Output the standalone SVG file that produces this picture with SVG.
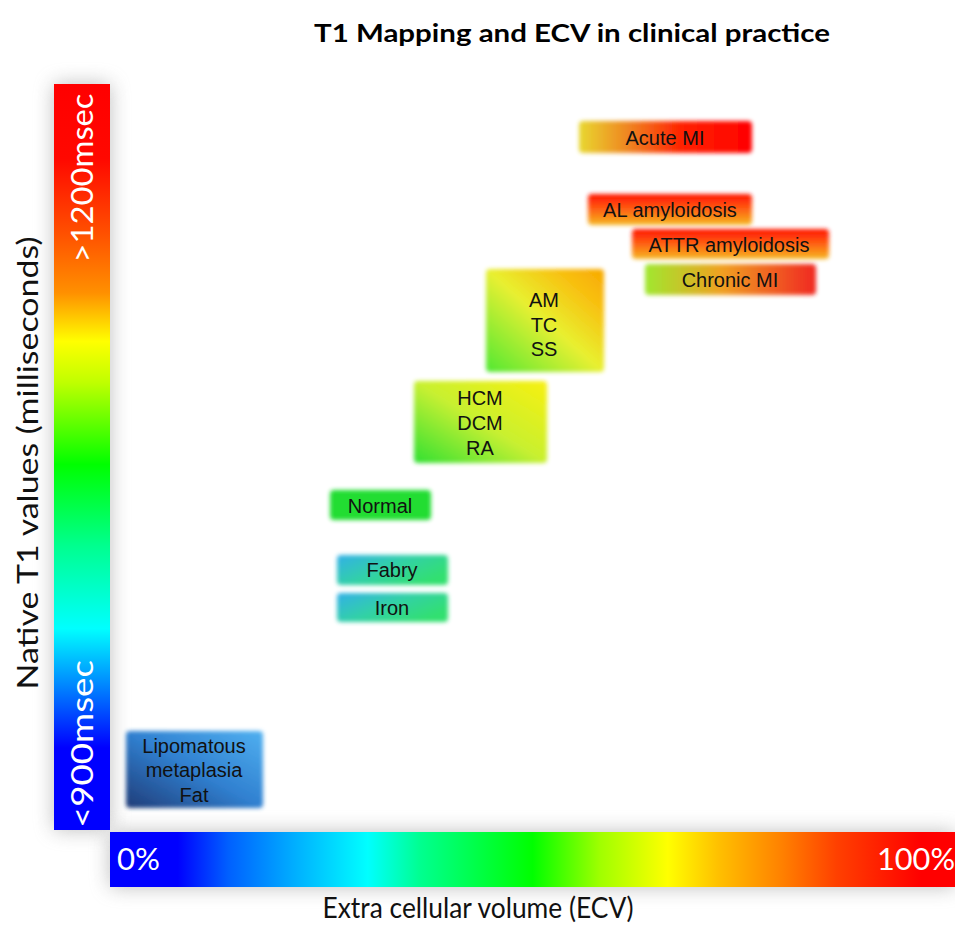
<svg xmlns="http://www.w3.org/2000/svg" width="955" height="926" viewBox="0 0 955 926">
<defs>
<style>
.ttl{font-family:Lato,"Open Sans","Liberation Sans",sans-serif;font-weight:bold;font-size:24px;fill:#000}
.ax{font-family:Lato,"Open Sans","Liberation Sans",sans-serif;font-size:29px;fill:#111}
.bar{font-family:Lato,"Open Sans","Liberation Sans",sans-serif;font-size:30px;fill:#fff}
.lbl{font-family:"Liberation Sans",Arial,sans-serif;font-size:20px;fill:#111;text-anchor:middle}
</style>
<filter id="soft" x="-20%" y="-40%" width="140%" height="180%"><feGaussianBlur stdDeviation="2"/></filter>
<filter id="shadow" x="-50%" y="-50%" width="200%" height="200%"><feGaussianBlur stdDeviation="10"/></filter>
<linearGradient id="gV" x1="0" y1="0" x2="0" y2="1">
<stop offset="0" stop-color="#ff0000"/><stop offset="0.1" stop-color="#ff0800"/>
<stop offset="0.2" stop-color="#ff5000"/><stop offset="0.28" stop-color="#ff9000"/>
<stop offset="0.345" stop-color="#ffff00"/><stop offset="0.4" stop-color="#c0ff00"/>
<stop offset="0.51" stop-color="#00ff00"/><stop offset="0.62" stop-color="#00ff90"/>
<stop offset="0.73" stop-color="#00ffff"/><stop offset="0.8" stop-color="#0090ff"/>
<stop offset="0.89" stop-color="#0000ff"/><stop offset="1" stop-color="#0000ff"/>
</linearGradient>
<linearGradient id="gH" x1="0" y1="0" x2="1" y2="0">
<stop offset="0" stop-color="#0000ff"/><stop offset="0.08" stop-color="#0000ff"/>
<stop offset="0.14" stop-color="#0060ff"/><stop offset="0.22" stop-color="#00b0ff"/>
<stop offset="0.305" stop-color="#00ffff"/><stop offset="0.367" stop-color="#00ff90"/>
<stop offset="0.5" stop-color="#00ff00"/><stop offset="0.58" stop-color="#a0ff00"/>
<stop offset="0.66" stop-color="#ffff00"/><stop offset="0.72" stop-color="#ffc000"/>
<stop offset="0.796" stop-color="#ff8000"/><stop offset="0.86" stop-color="#ff4000"/>
<stop offset="0.96" stop-color="#ff0000"/><stop offset="1" stop-color="#ff0000"/>
</linearGradient>
<linearGradient id="gAcute" x1="0" y1="0" x2="1" y2="0">
<stop offset="0" stop-color="#e8d830"/><stop offset="0.3" stop-color="#f08020"/>
<stop offset="0.6" stop-color="#ff2000"/><stop offset="1" stop-color="#ff0000"/>
</linearGradient>
<linearGradient id="gAmy" x1="0" y1="0" x2="0" y2="1">
<stop offset="0" stop-color="#ff1000"/><stop offset="0.4" stop-color="#ff5010"/><stop offset="1" stop-color="#f6b820"/>
</linearGradient>
<linearGradient id="gChronic" x1="0" y1="0" x2="1" y2="0">
<stop offset="0" stop-color="#a0e830"/><stop offset="0.45" stop-color="#f0a020"/><stop offset="1" stop-color="#f02820"/>
</linearGradient>
<linearGradient id="gAM" x1="0" y1="1" x2="1" y2="0">
<stop offset="0" stop-color="#50e830"/><stop offset="0.5" stop-color="#e8f030"/><stop offset="0.8" stop-color="#f8c010"/><stop offset="1" stop-color="#f8a800"/>
</linearGradient>
<linearGradient id="gHCM" x1="0" y1="1" x2="1" y2="0">
<stop offset="0" stop-color="#30e030"/><stop offset="0.5" stop-color="#c8f030"/><stop offset="1" stop-color="#f8f010"/>
</linearGradient>
<linearGradient id="gFabry" x1="0" y1="0" x2="1" y2="0.6">
<stop offset="0" stop-color="#30b0e8"/><stop offset="0.5" stop-color="#30d0a8"/><stop offset="1" stop-color="#30e070"/>
</linearGradient>
<linearGradient id="gLipo" x1="0" y1="1" x2="1" y2="0">
<stop offset="0" stop-color="#203c78"/><stop offset="0.5" stop-color="#3080d0"/><stop offset="1" stop-color="#50b0f0"/>
</linearGradient>
</defs>
<rect width="955" height="926" fill="#fff"/>
<text class="ttl" x="572" y="42" text-anchor="middle" textLength="516" lengthAdjust="spacingAndGlyphs">T1 Mapping and ECV in clinical practice</text>
<g id="axes">
<rect x="54" y="84" width="56" height="746" fill="#888" filter="url(#shadow)" opacity="0.55"/>
<rect x="110" y="832" width="845" height="55" fill="#888" filter="url(#shadow)" opacity="0.55"/>
<rect x="54" y="84" width="56" height="746" fill="url(#gV)"/>
<rect x="110" y="832" width="845" height="55" fill="url(#gH)"/>
<text class="bar" transform="translate(93,178) rotate(-90)" text-anchor="middle" textLength="169" lengthAdjust="spacingAndGlyphs">&gt;1200msec</text>
<text class="bar" transform="translate(93,744) rotate(-90)" text-anchor="middle" textLength="168" lengthAdjust="spacingAndGlyphs">&lt;900msec</text>
<text class="bar" x="117" y="870" textLength="43" lengthAdjust="spacingAndGlyphs">0%</text>
<text class="bar" x="955" y="870" text-anchor="end" textLength="78" lengthAdjust="spacingAndGlyphs">100%</text>
<text class="ax" transform="translate(38,463) rotate(-90)" text-anchor="middle" textLength="453" lengthAdjust="spacingAndGlyphs">Native T1 values (milliseconds)</text>
<text class="ax" x="478" y="918" text-anchor="middle" textLength="311" lengthAdjust="spacingAndGlyphs">Extra cellular volume (ECV)</text>
</g>
<g id="connectors"></g>
<g id="acute-mi"><rect x="579" y="121" width="173" height="32" rx="4" fill="url(#gAcute)" filter="url(#soft)"/><text class="lbl" x="665" y="145">Acute MI</text></g>
<g id="al-amyloidosis"><rect x="588" y="194" width="164" height="31" rx="4" fill="url(#gAmy)" filter="url(#soft)"/><text class="lbl" x="670" y="217">AL amyloidosis</text></g>
<g id="attr-amyloidosis"><rect x="632" y="229" width="197" height="30" rx="4" fill="url(#gAmy)" filter="url(#soft)"/><text class="lbl" x="729" y="252">ATTR amyloidosis</text></g>
<g id="chronic-mi"><rect x="645" y="264" width="171" height="31" rx="4" fill="url(#gChronic)" filter="url(#soft)"/><text class="lbl" x="730" y="287">Chronic MI</text></g>
<g id="am-tc-ss"><rect x="486" y="269" width="118" height="103" rx="4" fill="url(#gAM)" filter="url(#soft)"/><text class="lbl" x="544" y="307">AM</text><text class="lbl" x="544" y="332">TC</text><text class="lbl" x="544" y="356">SS</text></g>
<g id="hcm-dcm-ra"><rect x="414" y="381" width="133" height="82" rx="4" fill="url(#gHCM)" filter="url(#soft)"/><text class="lbl" x="480" y="405">HCM</text><text class="lbl" x="480" y="430">DCM</text><text class="lbl" x="480" y="455">RA</text></g>
<g id="normal"><rect x="330" y="490" width="101" height="30" rx="4" fill="#22dd30" filter="url(#soft)"/><text class="lbl" x="380" y="513">Normal</text></g>
<g id="fabry"><rect x="337" y="555" width="111" height="30" rx="4" fill="url(#gFabry)" filter="url(#soft)"/><text class="lbl" x="392" y="577">Fabry</text></g>
<g id="iron"><rect x="337" y="593" width="111" height="29" rx="4" fill="url(#gFabry)" filter="url(#soft)"/><text class="lbl" x="392" y="615">Iron</text></g>
<g id="lipomatous"><rect x="126" y="731" width="137" height="77" rx="4" fill="url(#gLipo)" filter="url(#soft)"/><text class="lbl" x="194" y="753">Lipomatous</text><text class="lbl" x="194" y="777">metaplasia</text><text class="lbl" x="194" y="802">Fat</text></g>
</svg>
